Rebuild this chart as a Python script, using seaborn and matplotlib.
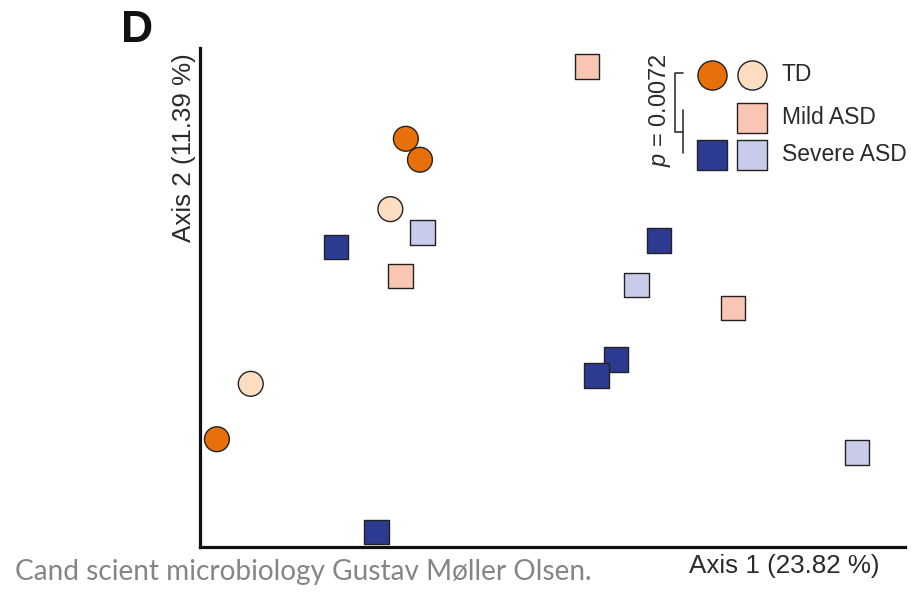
import matplotlib
matplotlib.use("Agg")
import matplotlib.pyplot as plt
import seaborn as sns
import pandas as pd

# PCoA coordinates (axis range scaled to 0..1)
td_dark_x = [0.292, 0.312, 0.024]
td_dark_y = [0.818, 0.776, 0.216]
td_light_x = [0.270, 0.072]
td_light_y = [0.677, 0.327]
mild_x = [0.549, 0.284, 0.756]
mild_y = [0.962, 0.543, 0.479]
severe_dark_x = [0.193, 0.651, 0.590, 0.562, 0.250]
severe_dark_y = [0.601, 0.615, 0.375, 0.343, 0.030]
severe_light_x = [0.316, 0.619, 0.932]
severe_light_y = [0.631, 0.525, 0.190]

colors = {
    "TD dark": "#E8700A",
    "TD light": "#FCDDC2",
    "Mild": "#F8C6B2",
    "Severe dark": "#2D3A91",
    "Severe light": "#C9CBEA",
}
markers = {
    "TD dark": "o",
    "TD light": "o",
    "Mild": "s",
    "Severe dark": "s",
    "Severe light": "s",
}

frames = []
for name, xs, ys in [("TD dark", td_dark_x, td_dark_y),
                     ("TD light", td_light_x, td_light_y),
                     ("Mild", mild_x, mild_y),
                     ("Severe dark", severe_dark_x, severe_dark_y),
                     ("Severe light", severe_light_x, severe_light_y)]:
    frames.append(pd.DataFrame({"x": xs, "y": ys, "group": name}))
df = pd.concat(frames, ignore_index=True)

sns.set_style("white")
plt.rcParams["font.family"] = ["Liberation Sans", "DejaVu Sans"]
plt.rcParams["mathtext.fontset"] = "custom"
plt.rcParams["mathtext.it"] = "Liberation Sans:italic"
plt.rcParams["mathtext.rm"] = "Liberation Sans"

fig = plt.figure(figsize=(9.12, 5.92), dpi=100)
ax = fig.add_axes([0.2193, 0.076, 0.773, 0.843])

sns.scatterplot(data=df, x="x", y="y", hue="group", style="group",
                palette=colors, markers=markers, s=320, edgecolor="#222222",
                linewidth=1.0, legend=False, ax=ax, clip_on=False, zorder=3)

ax.set_xlim(0, 1)
ax.set_ylim(0, 1)
ax.set_xticks([])
ax.set_yticks([])
ax.set_xlabel("")
ax.set_ylabel("")
for side in ["top", "right"]:
    ax.spines[side].set_visible(False)
for side in ["left", "bottom"]:
    ax.spines[side].set_linewidth(2.3)
    ax.spines[side].set_color("#111111")

ax.text(-0.022, 0.99, "Axis 2 (11.39 %)", transform=ax.transAxes, rotation=90,
        ha="center", va="top", fontsize=18.7, color="#2a2a2a")
ax.text(0.9645, -0.038, "Axis 1 (23.82 %)", transform=ax.transAxes,
        ha="right", va="center", fontsize=18.7, color="#2a2a2a")

# hand-made legend
leg_kw = dict(transform=ax.transAxes, clip_on=False, s=440, edgecolor="#222222",
              linewidth=1.0, zorder=4)
ax.scatter([0.726], [0.946], marker="o", color=colors["TD dark"], **leg_kw)
ax.scatter([0.783], [0.946], marker="o", color=colors["TD light"], **leg_kw)
ax.scatter([0.783], [0.860], marker="s", color=colors["Mild"], **leg_kw)
ax.scatter([0.726], [0.786], marker="s", color=colors["Severe dark"], **leg_kw)
ax.scatter([0.783], [0.786], marker="s", color=colors["Severe light"], **leg_kw)
for yy, lab in [(0.946, "TD"), (0.860, "Mild ASD"), (0.786, "Severe ASD")]:
    ax.text(0.8255, yy, lab, transform=ax.transAxes, ha="left", va="center",
            fontsize=16.5, color="#2a2a2a")

line_kw = dict(transform=ax.transAxes, clip_on=False, color="#333333", lw=1.2)
ax.plot([0.685, 0.674, 0.674, 0.685], [0.950, 0.950, 0.832, 0.832], **line_kw)
ax.plot([0.685, 0.685], [0.876, 0.790], **line_kw)
ax.text(0.652, 0.874, "$p$ = 0.0072", transform=ax.transAxes, rotation=90,
        ha="center", va="center", fontsize=17, color="#2a2a2a")

fig.text(137 / 912, 1 - 31 / 592, "D", ha="center", va="center",
         fontsize=32, fontweight="bold", color="#111111")
fig.text(15 / 912, 1 - 572 / 592, "Cand scient microbiology Gustav M\u00f8ller Olsen.",
         ha="left", va="center", fontsize=20.2, color="#858585",
         family=["Lato", "DejaVu Sans"])

fig.savefig("out.png", dpi=100)
